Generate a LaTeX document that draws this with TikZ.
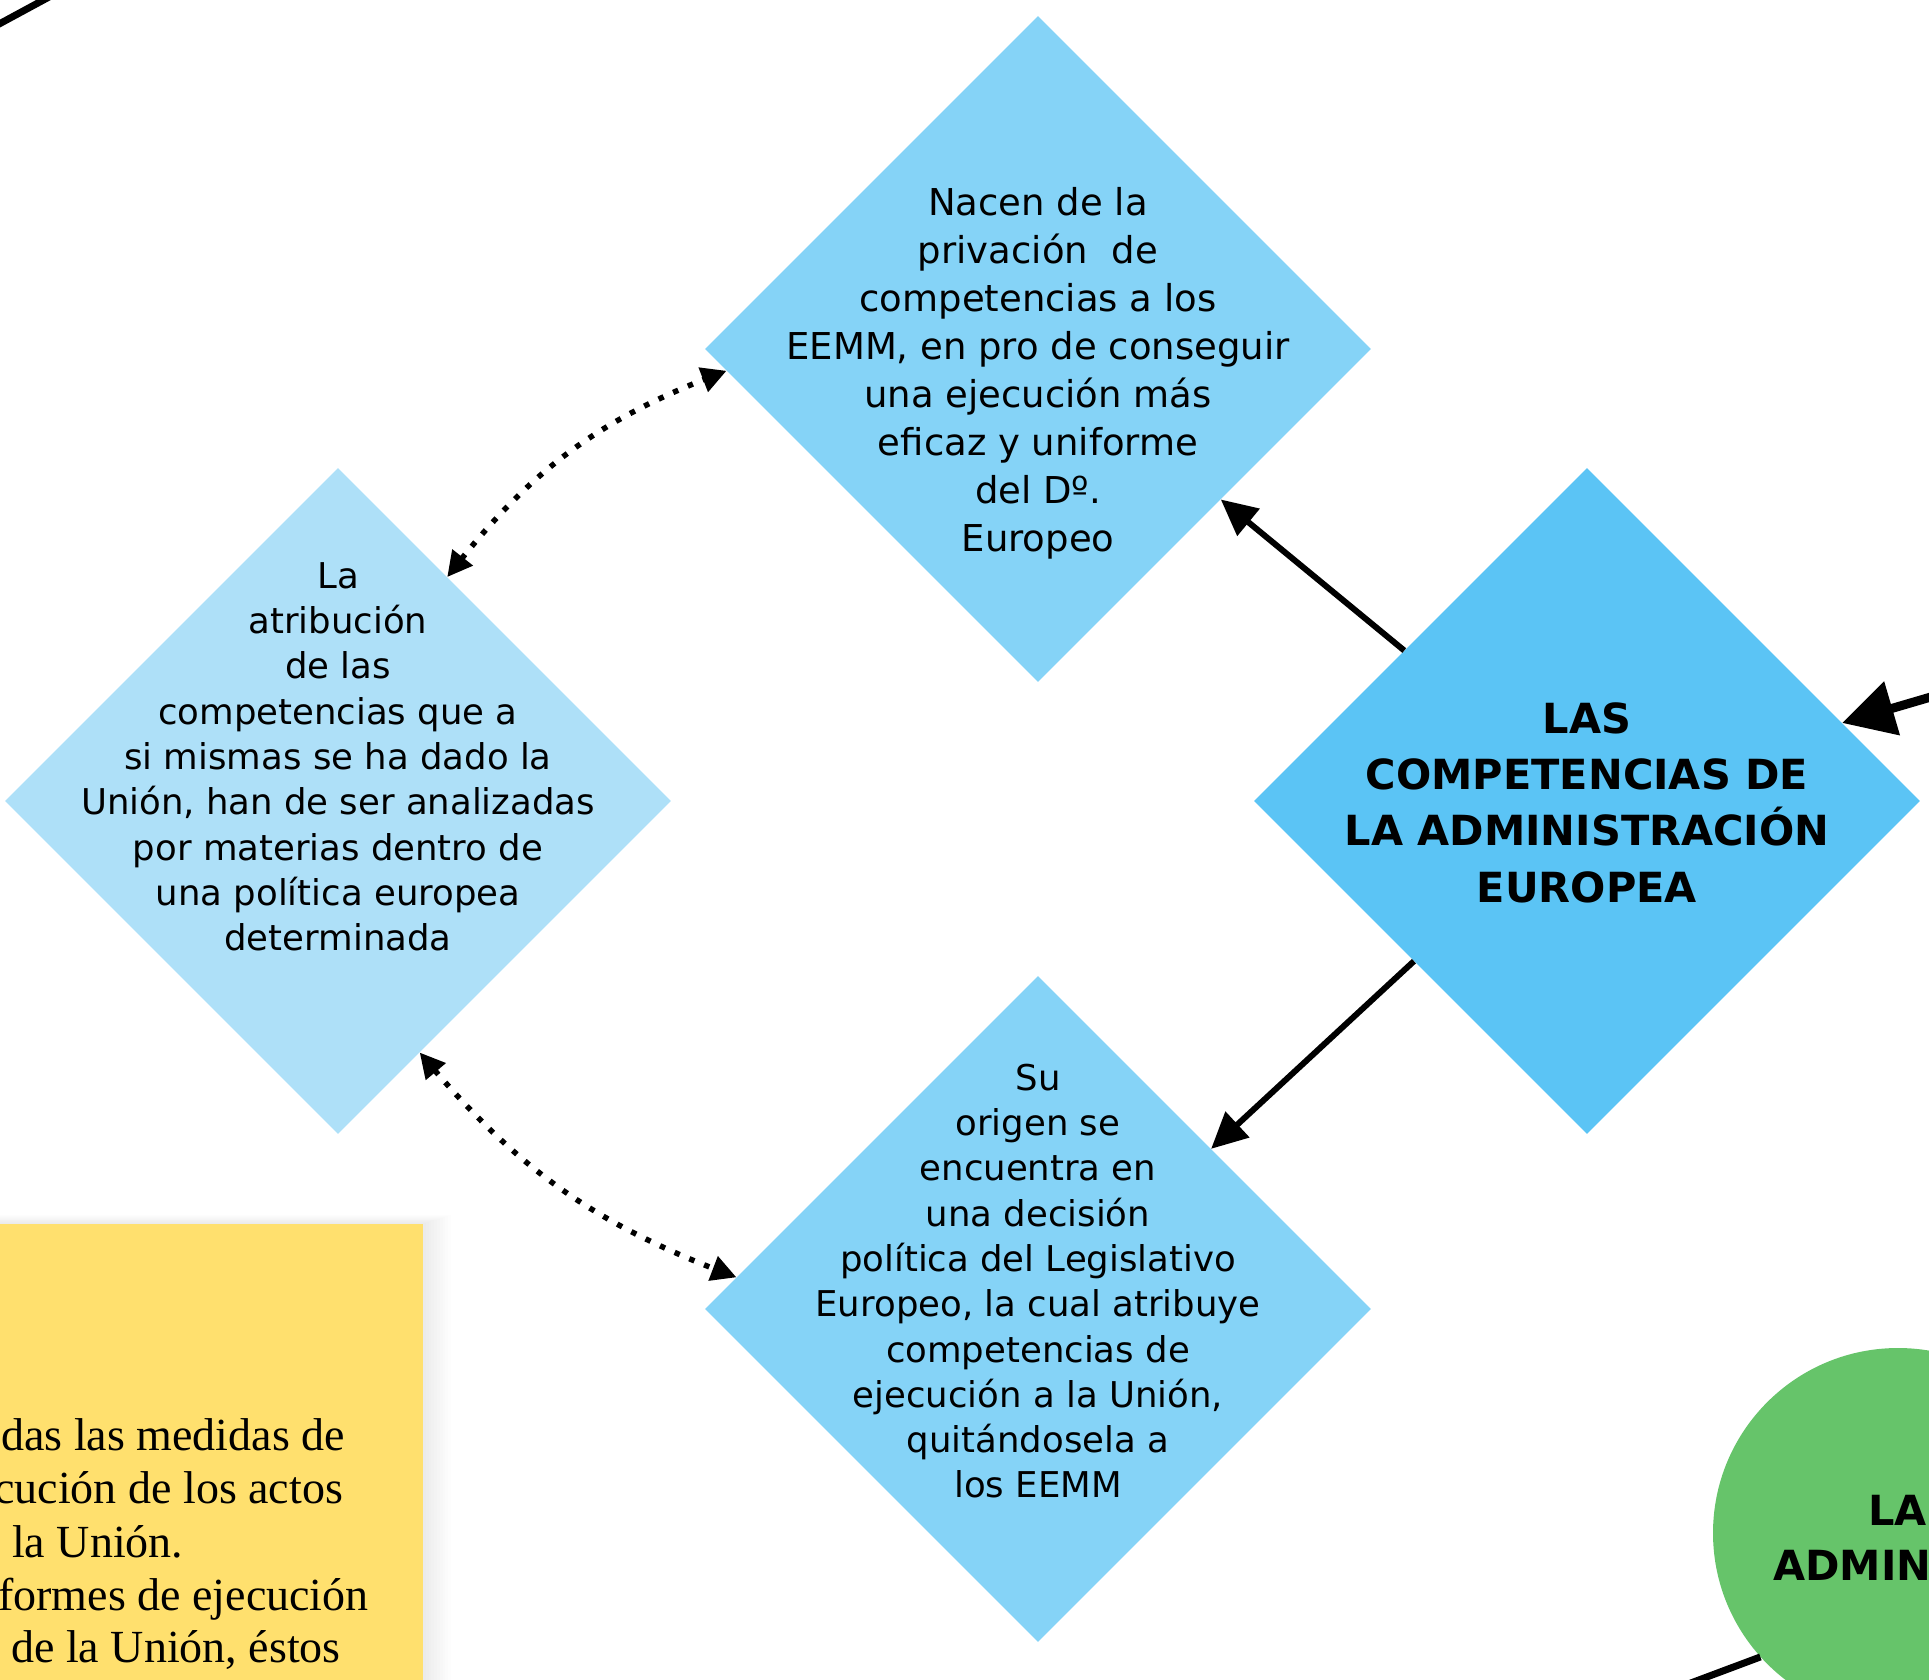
\documentclass[tikz,border=0pt]{standalone}
\usepackage{fontspec}
\setmainfont{DejaVu Sans}
\newfontfamily\yelfont{Liberation Serif}
\usetikzlibrary{shapes.geometric,arrows.meta,bending}
\definecolor{dmain}{HTML}{5BC4F5}
\definecolor{dmid}{HTML}{85D3F7}
\definecolor{dlight}{HTML}{AEE0F8}
\definecolor{yel}{HTML}{FFE06E}
\definecolor{grn}{HTML}{66C46A}
\begin{document}
\begin{tikzpicture}[x=1pt,y=-1pt,
  diabox/.style={diamond, aspect=1, minimum width=666pt, minimum height=666pt, inner sep=0pt, draw=none},
  dtext/.style={align=center, inner sep=0pt, anchor=north, font=\fontsize{35.5}{45.3}\selectfont},
  ttext/.style={align=center, inner sep=0pt, anchor=north, font=\fontsize{37}{48}\selectfont},
  titletext/.style={align=center, inner sep=0pt, anchor=north, font=\bfseries\fontsize{41.5}{56.3}\selectfont},
  ytext/.style={inner sep=0pt, anchor=base west, font=\yelfont\fontsize{46}{53}\selectfont},
  gtext/.style={inner sep=0pt, anchor=base west, font=\bfseries\fontsize{41.5}{56.3}\selectfont},
  conn/.style={line width=6pt, -{Triangle[length=36pt,width=34pt]}},
  bigconn/.style={line width=9pt, -{Triangle[length=52pt,width=54pt]}},
  plainconn/.style={line width=7pt},
  dotconn/.style={line width=5.5pt, dash pattern=on 5.5pt off 10.5pt,
    {Triangle[length=25pt,width=25pt]}-{Triangle[length=25pt,width=25pt]}}
]
\useasboundingbox (0,0) rectangle (1929,1679);
\clip (0,0) rectangle (1929,1679);

% yellow box shadow and box
\foreach \i in {1,...,10}
  \fill[black, opacity=0.009] (-20,1224-0.9*\i) rectangle (423+2.8*\i,1720);
\node[rectangle, fill=yel, minimum width=443pt, minimum height=500pt, anchor=north west, inner sep=0pt] (ybox) at (-20,1224) {};

% green circle
\node[circle, fill=grn, minimum size=370pt, inner sep=0pt] (grnc) at (1898,1533) {};

% diamonds
\node[diabox, fill=dmid] (tdia) at (1038,349) {};
\node[diabox, fill=dlight] (ldia) at (338,801) {};
\node[diabox, fill=dmid] (bdia) at (1038,1309) {};
\node[diabox, fill=dmain] (rdia) at (1587,801) {};

% off-page ends
\coordinate (tlA) at (-60,56);
\coordinate (tlB) at (110,-36);
\coordinate (offR) at (2016,672);
\coordinate (offB) at (1648,1699);

% connectors
\draw[plainconn] (tlA) -- (tlB);
\draw[conn] (rdia) -- (tdia);
\draw[conn] (rdia) -- (bdia);
\draw[bigconn] (offR) -- (rdia.17.6);
\draw[plainconn] (offB) -- (grnc.222);
\draw[dotconn] (ldia.64) to[bend left=16] (tdia.184);
\draw[dotconn] (ldia.288) to[bend right=15] (bdia.174);

% texts
\node[ttext] (ttxt) at (1038,181.4) {\strut Nacen de la\\privación\ \ de\\competencias a los\\EEMM, en pro de conseguir\\una ejecución más\\eficaz y uniforme\\del Dº.\\Europeo\strut};
\node[dtext] (ltxt) at (338,556.3) {\strut La\\atribución\\de las\\competencias que a\\si mismas se ha dado la\\Unión, han de ser analizadas\\por materias dentro de\\una política europea\\determinada\strut};
\node[dtext] (btxt) at (1038,1058.3) {\strut Su\\origen se\\encuentra en\\una decisión\\política del Legislativo\\Europeo, la cual atribuye\\competencias de\\ejecución a la Unión,\\quitándosela a\\los EEMM\strut};
\node[titletext] (rtxt) at (1587,693.6) {\strut LAS\\COMPETENCIAS DE\\LA ADMINISTRACIÓN\\EUROPEA\strut};

\node[ytext] (y1) at (1,1450) {das las medidas de};
\node[ytext] (y2) at (-6,1503) {cución de los actos};
\node[ytext] (y3) at (12,1557) {la Unión.};
\node[ytext] (y4) at (-2,1610) {formes de ejecución};
\node[ytext] (y5) at (11,1662) {de la Unión, éstos};

\node[gtext] (g1) at (1868,1525) {LA};
\node[gtext] (g2) at (1773,1580) {ADMIN};
\end{tikzpicture}
\end{document}
